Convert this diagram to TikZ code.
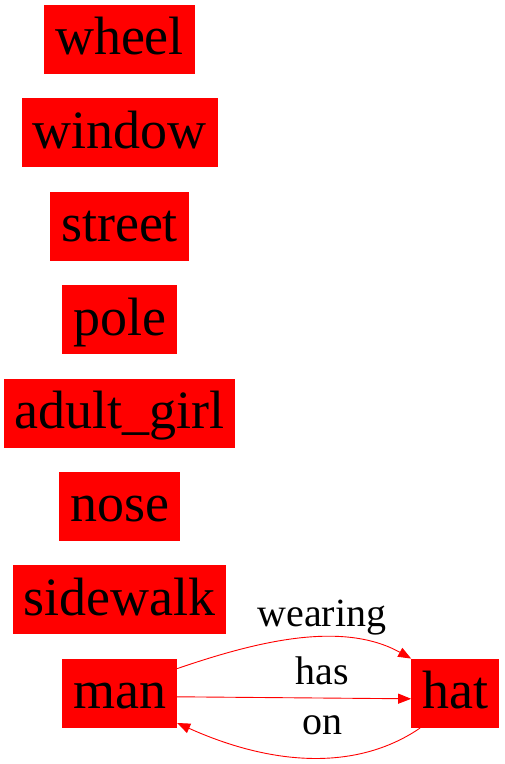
\documentclass[tikz,border=0pt]{standalone}
\usepackage{fontspec}
\setmainfont{Liberation Serif}
\usetikzlibrary{positioning,arrows.meta}
\begin{document}
\begin{tikzpicture}[x=1pt, y=1pt,
   obj/.style={fill=red, inner xsep=11pt, inner ysep=0pt, minimum height=69pt,
     text height=40pt, text depth=9pt, font=\fontsize{54}{60}\selectfont},
   rel/.style={red, line width=0.9pt, -{Triangle[length=13pt,width=10pt]}},
   lbl/.style={anchor=base, text=black, font=\fontsize{40}{46}\selectfont}]
   \useasboundingbox (0,0) rectangle (505,764);
   % objects
   \node[obj] (wheel) at (119.5,724.5) {wheel};
   \node[obj, below=24pt of wheel] (window) {window};
   \node[obj, below=24pt of window] (street) {street};
   \node[obj, below=24pt of street] (pole) {pole};
   \node[obj, below=24pt of pole] (adultgirl) {adult\_girl};
   \node[obj, below=24pt of adultgirl] (nose) {nose};
   \node[obj, below=24pt of nose] (sidewalk) {sidewalk};
   \node[obj, below=24pt of sidewalk] (man) {man};
   \node[obj, right=234pt of man] (hat) {hat};
   % relations
   \draw[rel] ([yshift=-10pt]man.north east)
     .. controls +(76,26) and +(-70,39) .. (hat.north west)
     node[lbl] at (322,137) {wearing};
   \draw[rel] ([yshift=-3.5pt]man.east) -- ([yshift=-5.5pt]hat.west)
     node[lbl] at (322,79) {has};
   \draw[rel] ([xshift=9pt]hat.south west)
     .. controls +(-66,-45) and +(91,-41) .. ([yshift=5pt]man.south east)
     node[lbl] at (322,29) {on};
\end{tikzpicture}
\end{document}
